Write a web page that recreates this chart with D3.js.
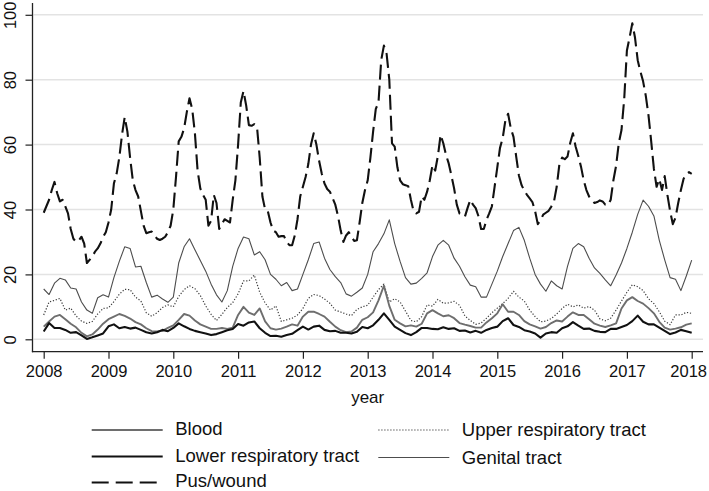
<!DOCTYPE html>
<html><head><meta charset="utf-8">
<script src="https://cdn.jsdelivr.net/npm/d3@7/dist/d3.min.js"></script>
<style>
body{margin:0;background:#fff}
svg{display:block}
text{font-family:"Liberation Sans",Arial,Helvetica,sans-serif;fill:#111}
</style>
</head><body>
<svg id="chart" width="709" height="491"></svg>
<script>
// ---- data ----
const yearTicks = [2008, 2009, 2010, 2011, 2012, 2013, 2014, 2015, 2016, 2017, 2018];
const valueTicks = [0, 20, 40, 60, 80, 100];
const seriesNames = ["Blood", "Upper respiratory tract", "Lower respiratory tract", "Genital tract", "Pus/wound"];

// monthly dates (2008.0 .. 2018.0) and half-monthly dates
const monthDates = d3.range(121).map(i => 2008 + i / 12);
const halfMonthDates = d3.range(241).map(i => 2008 + i / 24);

const blood = [
  3.9, 5.5, 7, 7.5, 6.2, 4.8, 3.7, 2, 0.9, 1.5, 3, 4.8,
  6.2, 7, 7.8, 7.2, 6.4, 5.3, 4.6, 3.4, 2.5, 2.4, 2.6, 3.5,
  4.3, 6, 7.8, 7.3, 5.8, 4.6, 3.9, 3.2, 3.2, 3.5, 3.2, 3.6,
  7.5, 10, 8.2, 7.5, 9.5, 5.5, 3.4, 3, 3.3, 3.9, 4.6, 4.2,
  7, 8.5, 8.5, 7.8, 7, 5.4, 3.9, 2.8, 2.2, 2.4, 3.6, 6,
  6.8, 8.3, 12, 16.5, 10.3, 6, 4.9, 4, 4.3, 3.9, 4.8, 8,
  9, 8, 7.1, 7.4, 6.5, 5, 4.5, 4.1, 3.6, 3.6, 5.2, 6.5,
  8, 10.8, 8.5, 8.5, 7.5, 5.6, 4.6, 4, 3.3, 3.8, 5, 5.8,
  5.5, 7, 8.3, 7.5, 7.5, 6.2, 4.8, 4.2, 3.8, 4.3, 4.9, 9.5,
  12, 13, 11.8, 11, 9.6, 8, 5.4, 3.6, 3, 3.3, 3.7, 4.5,
  4.9
];
const upperResp = [
  7.5, 11.5, 12, 12.6, 9, 9.6, 7.2, 5.6, 4.9, 5.5, 7.8, 9.5,
  9.7, 11.6, 13.9, 15.4, 15.3, 13, 11.8, 8.2, 7.1, 8.2, 9.8, 10.6,
  10, 13.2, 15.3, 16.5, 15.6, 13.5, 10.3, 7.7, 5.8, 7.7, 9.8, 11.3,
  14, 18, 18, 19.8, 14.5, 11.2, 9, 10.3, 5.5, 6, 6.5, 7.5,
  9.5, 12.6, 13.8, 13.5, 12.4, 11.1, 9, 8.4, 7.8, 7.3, 9.2, 10,
  10.5, 13, 15.3, 17, 11.5, 12.5, 11.5, 8.7, 5.8, 5.4, 7, 10.6,
  10.2, 12.3, 11.1, 11.2, 11.7, 10.5, 7.2, 5.8, 4.6, 5, 6.5, 8.2,
  9.6, 11, 12.6, 14.8, 13, 11.8, 9, 7, 5.4, 5.6, 6.4, 7.8,
  9.5, 10.8, 10, 10.6, 9.6, 10.1, 9, 6.3, 5.7, 6.5, 9, 11.8,
  14.5, 16.8, 16.2, 15, 12.5, 11, 8.5, 5.6, 4.5, 7.5, 7.5, 8.3,
  8
];
const lowerResp = [
  2.4, 5, 3.5, 3.5, 2.9, 2, 2.2, 1.2, 0.1, 0.6, 1.2, 1.8,
  4, 4.6, 3.4, 3.8, 3.3, 3.6, 2.9, 2.2, 1.8, 2.2, 2.9, 2.5,
  3.5, 4.9, 4, 3.2, 2.6, 2.2, 1.8, 1.3, 1.6, 2.2, 2.8, 3.2,
  4.7, 4.2, 5.2, 5.5, 3.4, 2, 1, 1.1, 0.8, 1.3, 1.7, 2.8,
  3.9, 3, 3.9, 4.2, 2.9, 2.5, 2.6, 2, 2, 1.8, 2.3, 3.8,
  3.4, 4.3, 6, 8, 6, 3.9, 2.9, 1.9, 1.3, 2.2, 3.5, 3.5,
  3.2, 3.1, 3.7, 3.2, 3.4, 2.6, 2.7, 2.1, 2.6, 2, 2.9, 3.5,
  3.9, 5.6, 6.5, 4.4, 3.8, 2.8, 2.4, 1.8, 0.5, 1.8, 2.2, 2,
  3.4, 4, 5.3, 4.2, 3.2, 3.3, 2.6, 2.3, 2.2, 3.2, 3.2, 3.8,
  4.4, 5.6, 7.3, 5.4, 4.6, 4.6, 3.6, 2.6, 1.6, 2.1, 2.9, 2.5,
  2
];
const genital = [
  15.5, 13.8, 17.3, 18.8, 18.3, 15.8, 15.5, 11.5, 9, 8, 12.8, 13.7,
  13, 19, 24, 28.5, 28, 22.3, 22.5, 17.5, 13, 13.6, 12.4, 11.4,
  13, 23.5, 28.5, 31, 27.6, 24.3, 21, 17, 13.7, 11.5, 15, 22.5,
  28, 31.5, 31, 26, 27, 24.5, 20, 18.5, 16.5, 17.5, 15, 15.5,
  20, 24.5, 29.5, 30, 25, 21.5, 19.3, 17.5, 14, 13.3, 14.5, 15.8,
  20, 27, 29.5, 32.5, 36.8, 29.5, 24, 19, 17, 17.3, 18.8, 20.5,
  25.5, 29, 30.5, 29, 25, 22.5, 19.3, 16.7, 16.2, 13, 13, 17,
  21, 25.5, 29.5, 33.5, 34.5, 30.5, 25, 20, 17, 14.8, 18, 16.5,
  15.5, 22.5, 28, 29.5, 28.5, 25, 22, 20.3, 18.3, 16.5, 19.8, 23.5,
  28, 33, 38.5, 42.9, 41, 38, 30.5, 24.5, 19, 18.5, 15, 19.5,
  24.4
];
const pusWound = [
  39, 41, 43, 46, 48.5, 45, 42.5, 43, 41, 38.8, 34, 31, 30, 30.5, 31.6, 29.5, 23.5, 24.5, 25.5, 27, 28, 29.5, 31.5, 33,
  36, 40, 48, 51, 56, 63, 68.5, 64, 56, 49, 46, 44, 39.5, 35, 32.7, 33, 33.2, 32, 31, 30.6, 31, 31.6, 33, 35,
  40, 50, 61, 62.4, 65, 70, 74.3, 71, 63.5, 52, 46.5, 44.5, 43, 35, 36.5, 44.5, 42, 34, 35.5, 37, 36.5, 36, 43, 49,
  60, 73, 76.5, 72, 66, 65.8, 66.3, 65.5, 56, 44, 40, 39.5, 36, 33.5, 33, 31.6, 31.8, 31.8, 30, 29, 29, 32, 37, 44,
  47, 50, 54, 60, 63.5, 60, 55, 51, 48, 46.3, 45.5, 43.5, 41.5, 38, 33.5, 30, 32, 33, 31.6, 30.3, 30.5, 36, 42, 46,
  49, 56, 64, 71, 73, 86, 90.5, 88, 80, 60.4, 59.4, 53, 49, 47.8, 47.5, 47.2, 43, 39.5, 38.8, 39.3, 44, 43, 45.5, 49,
  53.7, 52, 56.5, 63, 60.4, 56.8, 54.2, 50.5, 46.5, 41.5, 38.8, 38.5, 37.8, 40.5, 43, 41.5, 40.4, 38, 34, 34, 36.8, 38.8, 41, 47,
  53, 59, 62, 67.5, 69.5, 65, 62.4, 56.3, 50.5, 47.5, 45.8, 44.5, 43.4, 42.3, 39.5, 35.5, 36.7, 38.4, 39, 39.6, 40.9, 42.5, 47, 54,
  56, 55.5, 56.3, 60.5, 63.5, 59.4, 56.5, 53.2, 49, 46, 44, 43, 42, 42.3, 42.8, 42.5, 41.5, 41.3, 43, 49, 53.5, 60.5, 64.5, 74,
  89, 93, 97.4, 93, 86, 82.5, 79.5, 75, 69, 61, 52.5, 47, 49.4, 46, 50.3, 44.5, 39.5, 35.5, 37.5, 42, 46, 49.5, 51, 51.5,
  51
];

// ---- styles ----
const styles = {
  "Blood": {color: "#6e6e6e", width: 1.9, dash: null},
  "Upper respiratory tract": {color: "#3a3a3a", width: 1.2, dash: "1.2,1.8"},
  "Lower respiratory tract": {color: "#111", width: 2.1, dash: null},
  "Genital tract": {color: "#4d4d4d", width: 1.1, dash: null},
  "Pus/wound": {color: "#111", width: 2.1, dash: "15,6"}
};

const series = [
  {name: "Genital tract", dates: monthDates, values: genital},
  {name: "Upper respiratory tract", dates: monthDates, values: upperResp},
  {name: "Blood", dates: monthDates, values: blood},
  {name: "Lower respiratory tract", dates: monthDates, values: lowerResp},
  {name: "Pus/wound", dates: halfMonthDates, values: pusWound}
];

// ---- chart ----
const svg = d3.select("#chart");
const x = d3.scaleLinear().domain([2008, 2018]).range([43.7, 691.7]);
const y = d3.scaleLinear().domain([0, 100]).range([339.3, 14.8]);
const axisX = 32.5, axisY = 351.7, frameRight = 703, frameTop = 3;

// gridlines
svg.append("g").selectAll("line").data(valueTicks).join("line")
  .attr("x1", axisX + 1).attr("x2", frameRight)
  .attr("y1", d => y(d)).attr("y2", d => y(d))
  .attr("stroke", "#e3e3e3").attr("stroke-width", 1.5);

// series
const line = d3.line().x(d => x(d[0])).y(d => y(d[1]));
svg.append("g").selectAll("path").data(series).join("path")
  .attr("d", s => line(s.dates.map((t, i) => [t, s.values[i]])))
  .attr("fill", "none")
  .attr("stroke", s => styles[s.name].color)
  .attr("stroke-width", s => styles[s.name].width)
  .attr("stroke-dasharray", s => styles[s.name].dash)
  .attr("stroke-linejoin", "round");

// axes
const gx = svg.append("g").attr("transform", `translate(0,${axisY})`)
  .call(d3.axisBottom(x).tickValues(yearTicks).tickFormat(d3.format("d")).tickSize(7).tickSizeOuter(0));
gx.select(".domain").remove();
gx.selectAll(".tick line").attr("stroke", "#222").attr("stroke-width", 1.2);
gx.selectAll(".tick text").attr("y", 25).attr("dy", 0)
  .attr("dx", d => d === 2018 ? -3.5 : 0)
  .style("font-size", "16.5px").style("font-family", "'Liberation Sans',Arial,sans-serif").attr("fill", "#111");

const gy = svg.append("g").attr("transform", `translate(${axisX},0)`)
  .call(d3.axisLeft(y).tickValues(valueTicks).tickSize(7).tickSizeOuter(0));
gy.select(".domain").remove();
gy.selectAll(".tick line").attr("stroke", "#222").attr("stroke-width", 1.2);
gy.selectAll(".tick text").attr("x", 0).attr("dy", 0).attr("y", 0)
  .attr("transform", "translate(-17,0) rotate(-90)")
  .attr("text-anchor", "middle")
  .style("font-size", "16.5px").style("font-family", "'Liberation Sans',Arial,sans-serif").attr("fill", "#111");

// axis lines
svg.append("line").attr("x1", axisX).attr("x2", axisX).attr("y1", frameTop).attr("y2", axisY + 0.6)
  .attr("stroke", "#222").attr("stroke-width", 1.3);
svg.append("line").attr("x1", axisX - 0.6).attr("x2", frameRight).attr("y1", axisY).attr("y2", axisY)
  .attr("stroke", "#222").attr("stroke-width", 1.3);

// axis title
svg.append("text").attr("x", (x.range()[0] + x.range()[1]) / 2).attr("y", 403)
  .attr("text-anchor", "middle").style("font-size", "17px").text("year");

// legend
const legendItems = [
  {name: "Blood", lx: 91.7, ly: 430, ty: 435},
  {name: "Upper respiratory tract", lx: 378.3, ly: 430, ty: 436},
  {name: "Lower respiratory tract", lx: 91.7, ly: 456.5, ty: 461.5},
  {name: "Genital tract", lx: 378.3, ly: 457.5, ty: 464},
  {name: "Pus/wound", lx: 91.7, ly: 482.5, ty: 487}
];
const lg = svg.append("g").selectAll("g").data(legendItems).join("g");
lg.append("line")
  .attr("x1", d => d.lx).attr("x2", d => d.lx + 71)
  .attr("y1", d => d.ly).attr("y2", d => d.ly)
  .attr("stroke", d => styles[d.name].color)
  .attr("stroke-width", d => styles[d.name].width)
  .attr("stroke-dasharray", d => d.name === "Pus/wound" ? "17,7" : styles[d.name].dash);
lg.append("text")
  .attr("x", d => d.lx + 83.5).attr("y", d => d.ty)
  .style("font-size", "18.5px").text(d => d.name);
</script>
</body></html>
